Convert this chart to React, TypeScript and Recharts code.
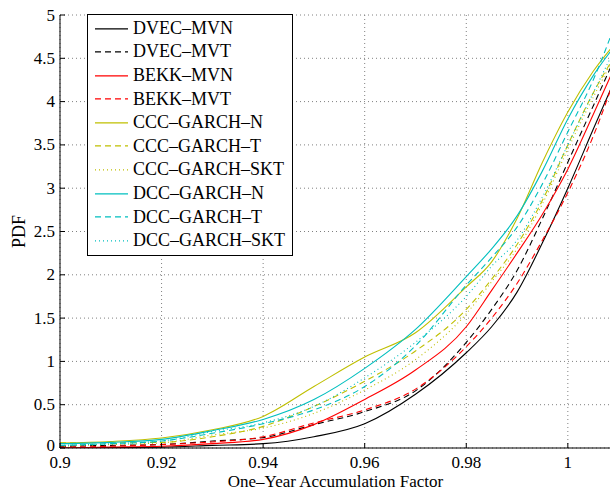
import React from "react";
import { LineChart, Line, XAxis, YAxis, CartesianGrid, Legend, Label } from "recharts";

// one-year accumulation factor (x) and PDF values
const factor = [0.9, 0.91, 0.92, 0.93, 0.94, 0.95, 0.96, 0.97, 0.98, 0.985, 0.99, 0.995, 1.0, 1.005, 1.01];

const dvecMvn = [0.0, 0.005, 0.01, 0.03, 0.05, 0.13, 0.28, 0.62, 1.1, 1.4, 1.8, 2.37, 3.0, 3.68, 4.35];
const dvecMvt = [0.02, 0.03, 0.04, 0.08, 0.12, 0.27, 0.42, 0.66, 1.22, 1.6, 2.05, 2.65, 3.3, 3.95, 4.6];
const bekkMvn = [0.0, 0.01, 0.02, 0.05, 0.1, 0.27, 0.56, 0.9, 1.4, 1.82, 2.25, 2.7, 3.22, 3.85, 4.5];
const bekkMvt = [0.01, 0.02, 0.04, 0.07, 0.13, 0.29, 0.44, 0.68, 1.17, 1.5, 1.9, 2.4, 2.95, 3.6, 4.4];
const cccN = [0.058, 0.075, 0.115, 0.21, 0.365, 0.71, 1.05, 1.33, 1.86, 2.15, 2.65, 3.3, 3.88, 4.35, 4.72];
const cccT = [0.06, 0.06, 0.065, 0.13, 0.25, 0.48, 0.77, 1.12, 1.6, 1.95, 2.35, 2.86, 3.5, 4.1, 4.6];
const cccSkt = [0.02, 0.04, 0.06, 0.15, 0.23, 0.4, 0.67, 1.02, 1.55, 1.92, 2.3, 2.82, 3.45, 4.05, 4.6];
const dccN = [0.05, 0.065, 0.1, 0.2, 0.33, 0.56, 0.92, 1.37, 1.98, 2.3, 2.68, 3.2, 3.8, 4.3, 4.7];
const dccT = [0.03, 0.05, 0.08, 0.17, 0.28, 0.44, 0.71, 1.18, 1.88, 2.2, 2.55, 3.05, 3.65, 4.25, 5.0];
const dccSkt = [0.03, 0.05, 0.08, 0.19, 0.29, 0.48, 0.81, 1.22, 1.75, 2.1, 2.4, 2.9, 3.5, 4.1, 4.7];

const seriesNames = [
    "DVEC–MVN",
    "DVEC–MVT",
    "BEKK–MVN",
    "BEKK–MVT",
    "CCC–GARCH–N",
    "CCC–GARCH–T",
    "CCC–GARCH–SKT",
    "DCC–GARCH–N",
    "DCC–GARCH–T",
    "DCC–GARCH–SKT"
];
const seriesValues = [dvecMvn, dvecMvt, bekkMvn, bekkMvt, cccN, cccT, cccSkt, dccN, dccT, dccSkt];

const xTicks = [0.9, 0.92, 0.94, 0.96, 0.98, 1];
const yTicks = [0, 0.5, 1, 1.5, 2, 2.5, 3, 3.5, 4, 4.5, 5];

// line styles, matlab-ish
const seriesColors = ["#000000", "#000000", "#ff0000", "#ff0000", "#bfbf00", "#bfbf00", "#bfbf00", "#00bfbf", "#00bfbf", "#00bfbf"];
const DASHED = "6 4";
const DOTTED = "1 3";
const seriesDash = [undefined, DASHED, undefined, DASHED, undefined, DASHED, DOTTED, undefined, DASHED, DOTTED];

const FONT = "'Liberation Serif', 'Times New Roman', serif";

const rows = factor.map((x, i) => {
    const row: Record<string, number> = { x };
    seriesValues.forEach((vals, s) => {
        row[`s${s}`] = vals[i];
    });
    return row;
});

const XTick = (props: any) => {
    const { x, y, payload } = props;
    return (
        <g>
            <line x1={x} x2={x} y1={y - 9} y2={y - 14} stroke="#000" />
            <text x={x} y={y + 11} textAnchor="middle" fontFamily={FONT} fontSize={17} fill="#000">
                {String(payload.value)}
            </text>
        </g>
    );
};

const YTick = (props: any) => {
    const { x, y, payload } = props;
    // the bottom label sits right on top of the first x label, lift it a touch
    const lift = payload.value === 0 ? 3 : 0;
    return (
        <g>
            <line x1={x + 5} x2={x + 10} y1={y} y2={y} stroke="#000" />
            <text x={x} y={y + 5.5 - lift} textAnchor="end" fontFamily={FONT} fontSize={17} fill="#000">
                {String(payload.value)}
            </text>
        </g>
    );
};

const LegendBox = () => (
    <div
        style={{
            boxSizing: "border-box",
            width: 206,
            height: 242,
            border: "1.5px solid #000",
            background: "#fff",
            paddingTop: 1.5,
            fontFamily: FONT,
            fontSize: 18,
            color: "#000"
        }}
    >
        {seriesNames.map((name, i) => (
            <div key={name} style={{ display: "flex", alignItems: "center", height: 23.6, whiteSpace: "nowrap" }}>
                <svg width={45} height={23.6} style={{ flex: "none" }}>
                    <line
                        x1={7}
                        x2={40}
                        y1={11.8}
                        y2={11.8}
                        stroke={seriesColors[i]}
                        strokeWidth={1.2}
                        strokeDasharray={seriesDash[i]}
                    />
                </svg>
                <span>{name}</span>
            </div>
        ))}
    </div>
);

export default function App() {
    return (
        <div style={{ position: "absolute", left: 0, top: 0, width: 610, height: 490, overflow: "hidden", background: "#fff" }}>
            <LineChart width={620} height={490} data={rows} margin={{ top: 15, right: 9, left: 0, bottom: 0 }}>
                <CartesianGrid stroke="#808080" strokeDasharray="1 3" />
                <XAxis
                    type="number"
                    dataKey="x"
                    domain={[0.9, 1.0085]}
                    allowDataOverflow
                    ticks={xTicks}
                    height={42}
                    tickSize={0}
                    tickMargin={9}
                    tick={<XTick />}
                    axisLine={{ stroke: "#000" }}
                    tickLine={false}
                >
                    <Label
                        value="One–Year Accumulation Factor"
                        position="insideBottom"
                        offset={3}
                        style={{ fontFamily: FONT, fontSize: 17, fill: "#000" }}
                    />
                </XAxis>
                <YAxis
                    type="number"
                    domain={[0, 5]}
                    ticks={yTicks}
                    width={60}
                    tickSize={0}
                    tickMargin={5}
                    tick={<YTick />}
                    axisLine={{ stroke: "#000" }}
                    tickLine={false}
                    allowDataOverflow
                >
                    <Label
                        content={(p: any) => {
                            const vb = p.viewBox;
                            const cx = vb.x + 19;
                            const cy = vb.y + vb.height / 2;
                            return (
                                <text
                                    x={cx}
                                    y={cy}
                                    transform={`rotate(-90 ${cx} ${cy})`}
                                    textAnchor="middle"
                                    dominantBaseline="central"
                                    fontFamily={FONT}
                                    fontSize={18}
                                    fill="#000"
                                >
                                    PDF
                                </text>
                            );
                        }}
                    />
                </YAxis>
                {seriesNames.map((name, i) => (
                    <Line
                        key={name}
                        name={name}
                        dataKey={`s${i}`}
                        type="monotone"
                        stroke={seriesColors[i]}
                        strokeWidth={1.1}
                        strokeDasharray={seriesDash[i]}
                        dot={false}
                        activeDot={false}
                        isAnimationActive={false}
                    />
                ))}
                <Legend
                    layout="vertical"
                    align="center"
                    verticalAlign="middle"
                    content={() => <LegendBox />}
                    wrapperStyle={{ left: 87, top: 14, width: 206 }}
                />
            </LineChart>
        </div>
    );
}
